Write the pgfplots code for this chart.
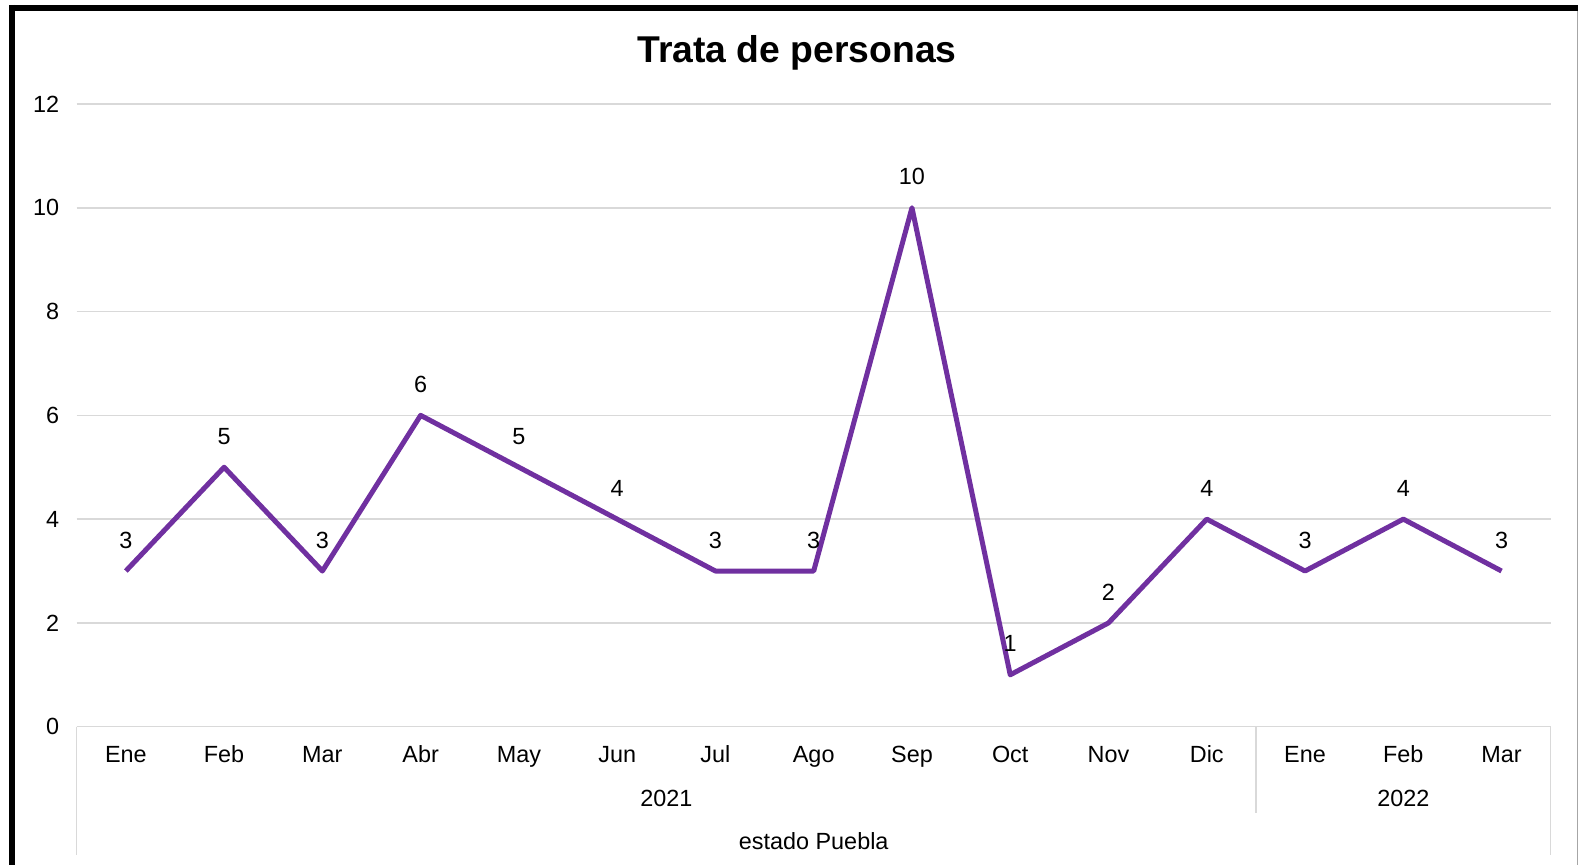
\documentclass[border=0pt]{standalone}
\usepackage{fontspec}
\setmainfont{Liberation Sans}
\usepackage{pgfplots}
\pgfplotsset{compat=1.18}

\definecolor{linepurple}{HTML}{7030A0}
\definecolor{gridgray}{HTML}{D9D9D9}
\definecolor{framegray}{HTML}{A6A6A6}

\newcommand{\lblfont}{\fontsize{23.4bp}{28bp}\selectfont}

\begin{document}
\begin{tikzpicture}
\useasboundingbox (0,0) rectangle (1578bp,865bp);

\begin{axis}[
    scale only axis,
    width=1474bp, height=622.7bp,
    anchor=south west, at={(76.7bp,138.3bp)},
    xmin=-0.5, xmax=14.5,
    ymin=0, ymax=12,
    xtick={0,...,14},
    xticklabels={Ene,Feb,Mar,Abr,May,Jun,Jul,Ago,Sep,Oct,Nov,Dic,Ene,Feb,Mar},
    ytick={0,2,...,12},
    major tick length=0pt,
    axis x line*=bottom, axis y line*=left,
    x axis line style={draw=gridgray, line width=1.5bp},
    y axis line style={draw=none},
    ymajorgrids,
    grid style={draw=gridgray, line width=1.5bp},
    /pgf/number format/assume math mode=true,
    ticklabel style={font=\lblfont, text=black},
    xticklabel style={anchor=base, yshift=-36bp},
    yticklabel style={anchor=east, xshift=-14bp},
    nodes near coords,
    every node near coord/.append style={font=\lblfont, text=black, anchor=center, yshift=31bp},
    clip=false,
]
\addplot[color=linepurple, line width=5bp, line join=round, mark=none] coordinates {
    (0,3) (1,5) (2,3) (3,6) (4,5) (5,4) (6,3) (7,3)
    (8,10) (9,1) (10,2) (11,4) (12,3) (13,4) (14,3)
};
\coordinate (sep) at (axis cs:11.5,0);
\coordinate (yA) at (axis cs:5.5,0);
\coordinate (yB) at (axis cs:13,0);
\coordinate (mid) at (axis cs:7,0);
\end{axis}

% category group separators
\draw[gridgray, line width=1.5bp] (76.7bp,138.3bp) -- (76.7bp,10bp);
\draw[gridgray, line width=1.5bp] (1550.7bp,138.3bp) -- (1550.7bp,10bp);
\draw[gridgray, line width=1.5bp] (sep) -- ++(0,-86bp);

\node[font=\lblfont, anchor=base] at ([yshift=-80bp]yA) {2021};
\node[font=\lblfont, anchor=base] at ([yshift=-80bp]yB) {2022};
\node[font=\lblfont, anchor=base] at ([yshift=-123bp]mid) {estado Puebla};

% title
\node[font=\fontsize{37.3bp}{44bp}\selectfont\bfseries, anchor=base] at (797bp,802.6bp) {Trata de personas};

% frame
\draw[framegray, line width=1bp] (1577bp,860bp) -- (1577bp,0);
\draw[black, line width=6bp] (9bp,857bp) -- (1578bp,857bp);
\draw[black, line width=6bp] (12bp,860bp) -- (12bp,0);
\end{tikzpicture}
\end{document}
